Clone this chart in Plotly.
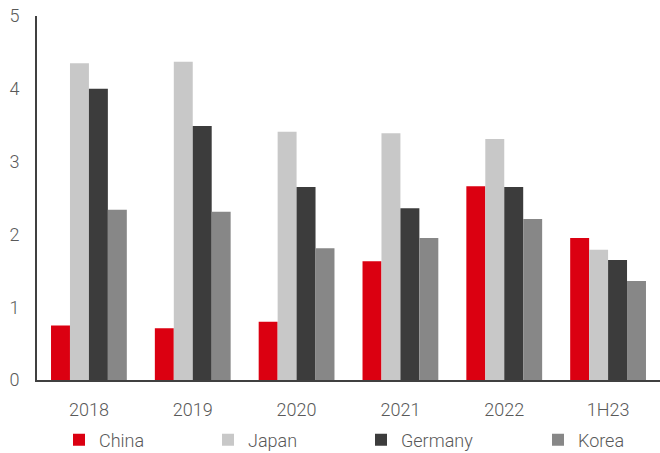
import plotly.graph_objects as go

categories = ["2018", "2019", "2020", "2021", "2022", "1H23"]
china = [0.75, 0.71, 0.80, 1.63, 2.66, 1.95]
japan = [4.35, 4.37, 3.41, 3.39, 3.31, 1.79]
germany = [4.00, 3.49, 2.65, 2.36, 2.65, 1.65]
korea = [2.34, 2.31, 1.81, 1.95, 2.21, 1.36]

series = [("China", china, "#DB0011"), ("Japan", japan, "#C8C8C8"),
          ("Germany", germany, "#3C3C3C"), ("Korea", korea, "#878787")]

W, H = 660, 453
L, R, T, B = 37, 0, 16, 73
pw = W - L - R
leg_marker_x = [80, 229, 382, 559]

fig = go.Figure()
for i, (name, vals, col) in enumerate(series):
    lg = "legend" if i == 0 else f"legend{i+1}"
    fig.add_trace(go.Bar(x=categories, y=vals, name=name, marker_color=col,
                         marker_line_width=0, legend=lg))

font = dict(family="Roboto", size=18, color="#595959", weight=300)
layout_legends = {}
for i in range(4):
    key = "legend" if i == 0 else f"legend{i+1}"
    layout_legends[key] = dict(x=(leg_marker_x[i] - 21 - L) / pw, xanchor="left",
                               y=-0.165, yanchor="middle", orientation="h",
                               font=dict(family="Roboto", size=18, color="#595959", weight=300),
                               bgcolor="rgba(0,0,0,0)", itemwidth=30)

fig.update_layout(
    width=W, height=H,
    margin=dict(l=L, r=R, t=T, b=B, autoexpand=False),
    paper_bgcolor="white", plot_bgcolor="white",
    barmode="group", bargap=0.27, bargroupgap=0,
    font=font,
    showlegend=True,
    **layout_legends,
)
fig.update_xaxes(showline=True, linecolor="#404040", linewidth=2, ticks="",
                 tickfont=font, ticklabelstandoff=12, showgrid=False, automargin=False)
fig.update_yaxes(range=[0, 5], dtick=1, showline=True, linecolor="#404040", linewidth=2,
                 ticks="", tickfont=font, ticklabelstandoff=12, showgrid=False,
                 zeroline=False, automargin=False, ticklabeloverflow="allow")

fig.write_html("out.html", config={"displayModeBar": False},
               post_script="document.body.style.margin='0';")
